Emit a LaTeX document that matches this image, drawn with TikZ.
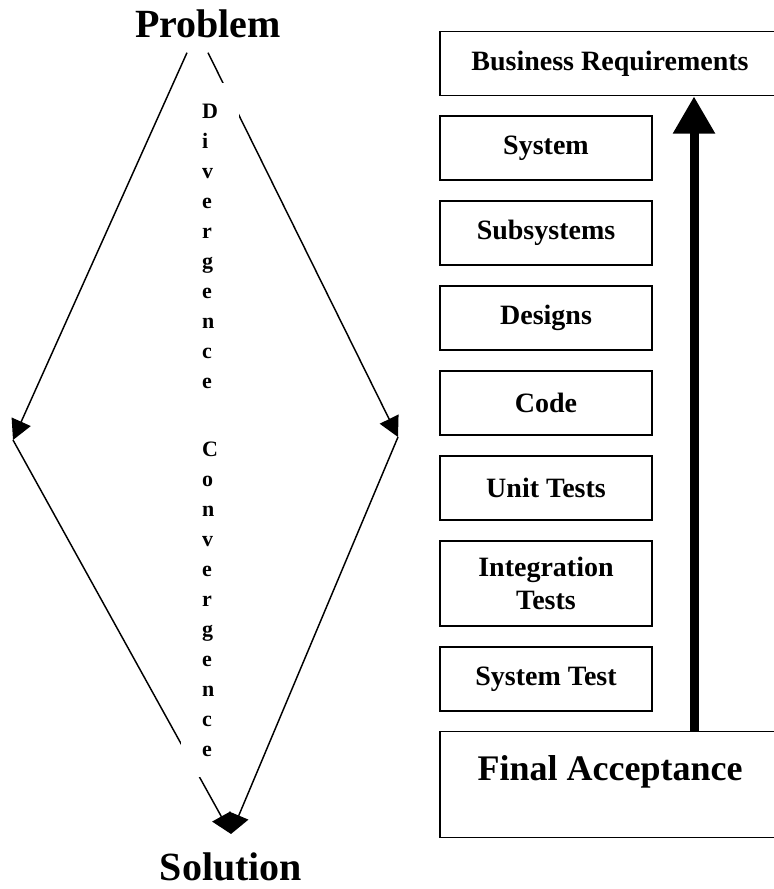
\documentclass[tikz,border=0pt]{standalone}
\usepackage{fontspec}
\setmainfont{Liberation Serif}
\usetikzlibrary{arrows.meta, positioning}

\begin{document}
\begin{tikzpicture}[
  x=0.75pt, y=-0.75pt,
  box/.style={rectangle, draw, line width=1.3pt, align=center, inner sep=0pt, font=\fontsize{21}{24.75}\selectfont\bfseries, minimum width=159pt, minimum height=48pt},
  widebox/.style={box, minimum width=255pt},
  title/.style={font=\fontsize{30}{36}\selectfont\bfseries, inner sep=0pt},
  vtext/.style={fill=white, align=left, inner sep=0pt, font=\fontsize{16.5}{22.5}\selectfont\bfseries, minimum width=43.5pt, minimum height=521pt},
  arr/.style={draw, line width=1.1pt, -{Triangle[length=15pt, width=15.5pt]}},
  bigarr/.style={draw, line width=6.75pt, -{Triangle[length=28pt, width=30pt]}}
]
  \fill[white] (0,0) rectangle (774,889);
  \useasboundingbox (0,0) rectangle (774,889);

  % Diamond
  \node[title, anchor=base] (prob) at (208,37) {Problem};
  \node[title, anchor=base] (sol) at (231,880) {Solution};
  \coordinate[below left=11.25pt and 15.75pt of prob.south] (pl);
  \coordinate[below=11.25pt of prob.south] (pr);
  \coordinate (dl) at (13,440);
  \coordinate (dr) at (398,437);
  \coordinate[above=13.5pt of sol.north] (db);

  \draw[arr] (pl) -- (dl);
  \draw[arr] (pr) -- (dr);
  \draw[arr] (dl) -- (db);
  \draw[arr] (dr) -- (db);

  \node[vtext] (dc) at (210,430) {D\\i\\v\\e\\r\\g\\e\\n\\c\\e\\[28.5pt]C\\o\\n\\v\\e\\r\\g\\e\\n\\c\\e};

  % Stack
  \node[widebox] (busreq) at (610,63.5) {Business Requirements};
  \node[box, below right=14pt and 0pt of busreq.south west] (system) {System};
  \node[box, below=14.5pt of system] (subsys) {Subsystems};
  \node[box, below=14.5pt of subsys] (designs) {Designs};
  \node[box, below=14.5pt of designs] (code) {Code};
  \node[box, below=14.5pt of code] (unit) {Unit Tests};
  \node[box, below=14.5pt of unit, minimum height=63.75pt] (integ) {Integration\\Tests};
  \node[box, below=14.5pt of integ] (systest) {System Test};
  \node[widebox, below right=13.75pt and 0pt of systest.south west, minimum height=79.5pt, text depth=25pt, font=\fontsize{27}{32}\selectfont\bfseries] (final) {Final Acceptance};

  \coordinate (upx) at (694,0);
  \draw[bigarr] (final.north -| upx) -- (busreq.south -| upx);
\end{tikzpicture}
\end{document}
